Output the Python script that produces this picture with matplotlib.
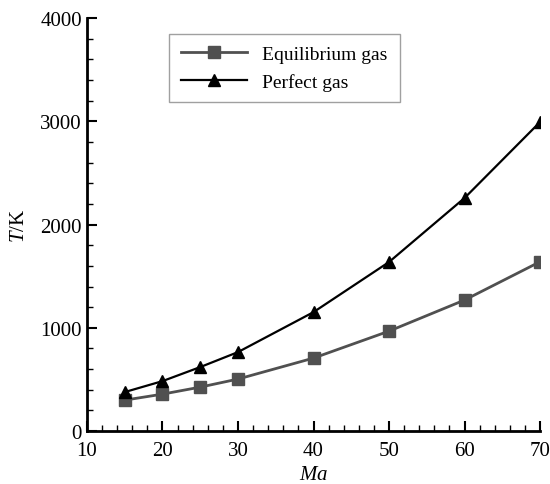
import matplotlib
matplotlib.use('Agg')
import matplotlib.pyplot as plt
from matplotlib.ticker import MultipleLocator

plt.rcParams['font.family'] = 'Liberation Serif'
plt.rcParams['mathtext.fontset'] = 'custom'
plt.rcParams['mathtext.it'] = 'Liberation Serif:italic'

ma = [15, 20, 25, 30, 40, 50, 60, 70]
equilibrium = [300, 358, 426, 504, 707, 968, 1269, 1640]
perfect = [378, 484, 620, 765, 1152, 1637, 2257, 2993]

fig = plt.figure(figsize=(5.5, 4.85), dpi=100)
ax = fig.add_axes([0.158, 0.109, 0.824, 0.852])

ax.plot(ma, equilibrium, color='#505050', lw=2, marker='s', ms=8, label='Equilibrium gas')
ax.plot(ma, perfect, color='black', lw=1.6, marker='^', ms=9, label='Perfect gas')

ax.set_xlim(10, 70)
ax.set_ylim(0, 4000)
ax.xaxis.set_major_locator(MultipleLocator(10))
ax.xaxis.set_minor_locator(MultipleLocator(2))
ax.yaxis.set_major_locator(MultipleLocator(1000))
ax.yaxis.set_minor_locator(MultipleLocator(200))
ax.tick_params(which='both', direction='in', labelsize=15, width=1.5)
ax.tick_params(which='major', length=7)
ax.tick_params(which='minor', length=4, width=1)
ax.tick_params(axis='x', which='major', pad=7)
for s in ['top', 'right']:
    ax.spines[s].set_visible(False)
for s in ['left', 'bottom']:
    ax.spines[s].set_linewidth(2)

ax.set_xlabel('$Ma$', fontsize=15, labelpad=4)
ax.set_ylabel('$T$/K', fontsize=15, labelpad=8)

leg = ax.legend(loc='upper left', bbox_to_anchor=(0.16, 0.985), fontsize=14,
                fancybox=False, edgecolor='#888888', handlelength=3.4,
                borderpad=0.6, labelspacing=0.5)
leg.get_frame().set_linewidth(1)

plt.savefig('out.png')
